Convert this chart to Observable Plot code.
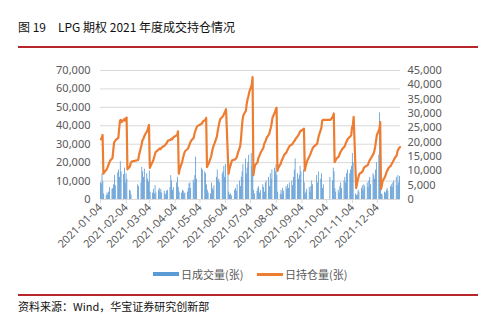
<!DOCTYPE html>
<html><head><meta charset="utf-8">
<script src="https://cdn.jsdelivr.net/npm/d3@7"></script>
<script src="https://cdn.jsdelivr.net/npm/@observablehq/plot@0.6"></script>
<style>
body{margin:0;background:#fff;}
#fig{position:relative;width:499px;height:321px;overflow:hidden;font-family:"Noto Sans CJK SC","Noto Sans",sans-serif;color:#000;}
#chart{position:absolute;left:0;top:0;}
.title{position:absolute;left:18px;top:19px;font-size:12px;line-height:16px;white-space:pre;color:#111;}
.rule{position:absolute;left:18px;width:460px;height:2px;background:#B8262B;}
.source{position:absolute;left:18px;top:299px;font-size:11px;line-height:15px;white-space:pre;color:#111;}
.legend{position:absolute;top:266px;left:0;width:499px;height:16px;font-size:11px;line-height:16px;color:#595959;}
.sw{position:absolute;top:6px;width:26px;height:4px;}
.lt{position:absolute;top:0;white-space:pre;}
</style></head>
<body>
<div id="fig">
  <div id="chart"></div>
  <div class="title">图 19　LPG 期权 2021 年度成交持仓情况</div>
  <div class="rule" style="top:46px"></div>
  <div class="legend">
    <div class="sw" style="left:153px;background:#5B9BD5"></div><div class="lt" id="l1" style="left:181px"></div>
    <div class="sw" style="left:257px;background:#ED7D31;height:3px;top:7px"></div><div class="lt" id="l2" style="left:285px"></div>
  </div>
  <div class="rule" style="top:294px"></div>
  <div class="source">资料来源：Wind，华宝证券研究创新部</div>
</div>
<script>
// ---- data ----
const seriesNames = ["日成交量(张)", "日持仓量(张)"];
const holidays = ["2021-01-01","2021-02-11","2021-02-12","2021-02-15","2021-02-16","2021-02-17",
  "2021-04-05","2021-05-03","2021-05-04","2021-05-05","2021-06-14","2021-09-20","2021-09-21",
  "2021-10-01","2021-10-04","2021-10-05","2021-10-06","2021-10-07"];
const tickLabels = ["2021-01-04","2021-02-04","2021-03-04","2021-04-04","2021-05-04","2021-06-04",
  "2021-07-04","2021-08-04","2021-09-04","2021-10-04","2021-11-04","2021-12-04"];
const leftTicks = [0,10000,20000,30000,40000,50000,60000,70000];
const rightTicks = [0,5000,10000,15000,20000,25000,30000,35000,40000,45000];
// daily volume (left axis), one line per month
const volume = [
  9000,8500,14000,9500,3000,2000,3500,2500,4000,6500,5500,6000,8000,13000,7500,14500,16000,12000,20500,15000,
  13500,17000,9000,14000,11000,5000,4500,2500,8000,7000,9000,17500,15000,12000,16500,
  14000,11000,9500,15500,4000,3500,5500,3000,7500,3500,5000,6000,4000,5500,3500,4500,3000,2500,4500,5000,6500,13000,10000,
  5000,6500,9000,12000,6500,4000,3500,5000,4500,3000,3500,4000,6000,8500,9000,6000,10500,9000,13000,23000,11000,
  17000,16000,15000,14000,8000,5000,3500,3000,9000,6000,5000,7500,12000,16000,10000,11000,9000,14000,
  15000,18000,12000,19000,14000,4000,2500,3000,2000,5000,6000,4500,8000,10000,7000,12000,15000,19000,22000,14000,17000,
  20000,24000,25000,18000,16000,5000,3000,4500,6000,7000,3500,5000,8000,6500,4000,9000,10000,12000,7000,14000,11000,16000,
  17000,15000,19000,13000,4000,3000,5000,2500,6000,4500,7000,5500,8000,6000,9000,10000,7500,12000,16000,22000,14000,11000,
  13000,18000,15000,16000,9000,3000,4000,5500,6500,4000,7000,10000,8000,13000,9000,15000,11000,14000,6000,8000,
  12000,10000,17000,15000,6000,4000,5000,3500,7000,9000,6000,10000,12000,9000,14000,16000,
  14000,16000,18000,25000,20000,3000,2000,2500,5000,4000,6000,7500,5000,8000,7000,9000,6500,10000,12000,8000,14000,13000,
  11000,16000,20000,24000,47000,6000,3000,2500,4000,3500,5000,6000,4500,7000,8000,6500,9000,10000,12000,7500,13000,9000,12500
];
// daily open interest (right axis), one line per month
const openInterest = [
  21000,21500,22500,9000,9500,10500,11200,12000,12800,13500,14500,17500,20000,20300,20800,21500,24500,27500,27800,27000,
  28000,27500,28300,28600,10500,11500,12800,13200,13800,15500,19000,20600,21000,21800,22500,
  24000,25000,26000,11000,11800,13500,14500,15500,16500,16800,17500,17800,17600,18000,18300,18800,19200,19500,20000,20600,20800,21200,21000,
  21500,21800,22500,23800,9000,10500,13000,14500,15500,16500,17000,17700,18500,19200,20000,20600,21500,23000,24000,24700,25500,
  26500,27200,27800,28500,11300,12000,12500,15000,16500,17800,18800,19500,22000,24000,25500,27000,28000,29000,
  29500,30200,30800,31500,9000,10500,11500,12500,13600,14000,14300,14800,16000,18500,21000,25000,28000,29500,31000,33500,35000,
  36000,37500,40000,42700,8500,10500,12000,13000,14500,15000,15800,16500,18000,19400,20000,20600,21500,22800,24000,25000,26500,28500,
  30500,31500,32000,10000,11000,12500,13500,14000,14800,15500,16500,17200,17800,18300,18800,19300,19800,20300,20600,21200,22300,22800,
  23500,24000,24000,24700,10100,11500,12500,13500,15300,16000,16800,17500,18200,19500,21000,22300,25000,27500,27800,27800,
  27800,29000,30000,13000,13500,14200,15000,15800,16500,17000,17500,18500,19200,20000,20600,21200,
  22000,22500,25000,26000,28800,4000,5500,7000,8000,9000,9500,10000,10800,11300,11500,12000,12800,13500,14000,14500,16000,17000,
  18500,20500,22500,24500,27000,3700,5000,6500,8000,9000,9800,10300,11000,11800,12500,13000,13500,14200,15500,17000,17500,18000,18300
];
// ---- build ----
const parse = d3.utcParse("%Y-%m-%d");
const fmt = d3.utcFormat("%Y-%m-%d");
const hol = new Set(holidays);
const dates = d3.utcDays(parse("2021-01-01"), parse("2022-01-01"))
  .filter(d => d.getUTCDay() % 6 !== 0 && !hol.has(fmt(d)));
const rows = dates.map((d, i) => ({date: d, vol: volume[i], oi: openInterest[i]}));
const k = leftTicks[leftTicks.length-1] / rightTicks[rightTicks.length-1];
const tickDates = tickLabels.map(parse);
const numFmt = d3.format(",");
document.getElementById("l1").textContent = seriesNames[0];
document.getElementById("l2").textContent = seriesNames[1];

const chart = Plot.plot({
  width: 499, height: 321,
  marginLeft: 100, marginRight: 99, marginTop: 70, marginBottom: 122,
  style: {fontSize: "11px", fontFamily: "'Noto Sans', 'Noto Sans CJK SC', sans-serif", background: "transparent"},
  x: {type: "utc", domain: [parse("2021-01-04"), parse("2022-01-01")]},
  y: {domain: [0, 70000]},
  marks: [
    Plot.gridY(leftTicks, {stroke: "#D9D9D9", strokeOpacity: 1}),
    Plot.rectY(rows, {x1: "date", x2: d => d3.utcDay.offset(d.date, 1), y: "vol", fill: "#4A8FD0", insetRight: 0.1}),
    Plot.ruleY([0], {stroke: "#D9D9D9"}),
    Plot.lineY(rows, {x: d => d3.utcHour.offset(d.date, 12), y: d => d.oi * k, stroke: "#ED7D31", strokeWidth: 2.2}),
    Plot.axisY(leftTicks, {anchor: "left", tickSize: 0, tickPadding: 10, tickFormat: numFmt, fill: "#595959", label: null}),
    Plot.axisY(rightTicks.map(v => v * k), {anchor: "right", tickSize: 0, tickPadding: 7, tickFormat: v => numFmt(Math.round(v / k)), fill: "#595959", label: null}),
    Plot.axisX(tickDates, {anchor: "bottom", tickRotate: -45, tickSize: 4, tickPadding: 2, stroke: "#D9D9D9", fill: "#595959", tickFormat: fmt, label: null})
  ]
});
document.getElementById("chart").appendChild(chart);
</script>
</body></html>
